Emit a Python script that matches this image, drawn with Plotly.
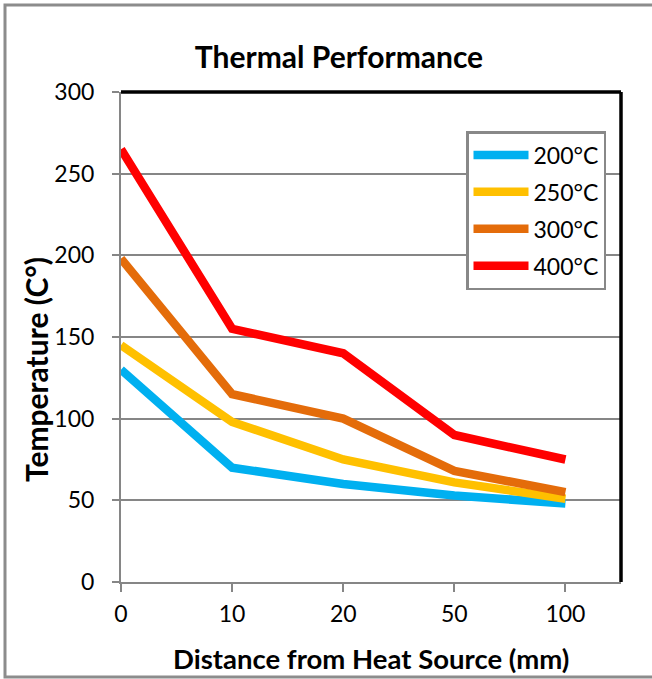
import plotly.graph_objects as go

categories = ["0", "10", "20", "50", "100"]
series_names = ["200°C", "250°C", "300°C", "400°C"]
t200 = [130, 70, 60, 53, 48]
t250 = [145, 98, 75, 61, 51]
t300 = [198, 115, 100, 68, 55]
t400 = [265, 155, 140, 90, 75]
colors = ["#00B0F0", "#FFC000", "#E46C0A", "#FF0000"]
y_ticks = [0, 50, 100, 150, 200, 250, 300]

W, H = 652, 679
L, R, T, B = 121, 621, 92, 582

def px(x):
    return (x - L) / (R - L)

def py(y):
    return (B - y) / (B - T)

FONT = "Lato"

fig = go.Figure()
for i, (name, vals, c) in enumerate(zip(series_names, [t200, t250, t300, t400], colors)):
    fig.add_trace(go.Scatter(
        x=list(range(len(categories))), y=vals, name=name, mode="lines",
        line=dict(color=c, width=8.5), legendgroup="g%d" % i,
    ))

fig.update_layout(
    width=W, height=H,
    margin=dict(l=L, r=W - R, t=T, b=H - B),
    paper_bgcolor="white", plot_bgcolor="white",
    font=dict(family=FONT, size=23, color="black"),
    title=dict(text="<b>Thermal Performance</b>", x=339 / W, xanchor="center",
               y=1 - 57 / H, yanchor="middle", yref="container",
               font=dict(size=30, family=FONT, color="black")),
    showlegend=True,
    legend=dict(x=px(466), y=py(131), xanchor="left", yanchor="top",
                bordercolor="#888888", borderwidth=2.5, bgcolor="white",
                font=dict(size=23, family=FONT), tracegroupgap=4,
                itemwidth=55),
    xaxis=dict(
        tickmode="array", tickvals=list(range(len(categories))), ticktext=categories,
        range=[0, 4.5], showgrid=False, zeroline=False,
        showline=True, linecolor="#868686", linewidth=2,
        ticks="outside", ticklen=8, tickcolor="#868686", tickwidth=1.5,
        tickfont=dict(size=23, family=FONT), fixedrange=True,
        ticklabelstandoff=2,
    ),
    yaxis=dict(
        range=[0, 300], tickvals=y_ticks, showgrid=True, gridcolor="#868686",
        gridwidth=1.5, zeroline=False, showline=True, linecolor="#868686",
        linewidth=2, ticks="outside", ticklen=7, tickcolor="#868686", tickwidth=1.5,
        tickfont=dict(size=23, family=FONT), fixedrange=True,
        ticklabelstandoff=13,
    ),
    annotations=[
        dict(text="<b>Temperature (C°)</b>", x=px(36), y=py(370), xref="paper", yref="paper",
             textangle=-90, showarrow=False, font=dict(size=30, family=FONT),
             xanchor="center", yanchor="middle"),
        dict(text="<b>Distance from Heat Source (mm)</b>", x=px(371), y=py(658),
             xref="paper", yref="paper", showarrow=False,
             font=dict(size=27.5, family=FONT), xanchor="center", yanchor="middle"),
    ],
    shapes=[
        dict(type="line", xref="paper", yref="paper", x0=0, x1=1, y0=1, y1=1,
             line=dict(color="black", width=3.5)),
        dict(type="line", xref="paper", yref="paper", x0=1, x1=1, y0=0, y1=1,
             line=dict(color="black", width=3.5)),
        dict(type="rect", xref="paper", yref="paper", x0=px(5), x1=px(656),
             y0=py(677), y1=py(5), line=dict(color="#8C8C8C", width=3), layer="below"),
    ],
)

fig.write_html("out.html", config={"displayModeBar": False},
               post_script="document.body.style.margin='0';document.body.style.overflow='hidden';")
